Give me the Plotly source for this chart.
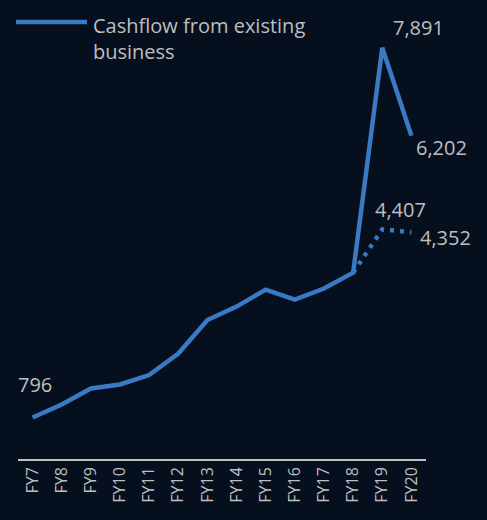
import plotly.graph_objects as go

categories = ["FY7", "FY8", "FY9", "FY10", "FY11", "FY12", "FY13", "FY14",
              "FY15", "FY16", "FY17", "FY18", "FY19", "FY20"]
cashflow = [796, 1045, 1352, 1429, 1611, 2023, 2666, 2924, 3250, 3059, 3270, 3576, 7891, 6202]
alt_categories = ["FY18", "FY19", "FY20"]
alt_values = [3576, 4407, 4352]
series_name = "Cashflow from existing<br>business"

BG = "#050f1e"
LINE = "#3a79c4"
TXT = "#bfbfbf"
FONT = "Open Sans"

fig = go.Figure()
fig.add_trace(go.Scatter(x=categories, y=cashflow, mode="lines",
                         line=dict(color=LINE, width=4.5),
                         showlegend=False))
fig.add_trace(go.Scatter(x=alt_categories, y=alt_values, mode="lines",
                         line=dict(color=LINE, width=4.5, dash="4px,6px"),
                         showlegend=False, hoverinfo="skip"))

def fmt(v):
    return f"{v:,}"

labels = [
    (categories[0], cashflow[0], 2, 33),
    (categories[12], cashflow[12], 36, 20),
    (categories[13], cashflow[13], 30, -12),
    (alt_categories[1], alt_values[1], 18, 20),
    (alt_categories[2], alt_values[2], 34, -5),
]
for x, y, dx, dy in labels:
    fig.add_annotation(x=x, y=y, text=fmt(y), showarrow=False,
                       xshift=dx, yshift=dy, xanchor="center", yanchor="middle",
                       font=dict(family=FONT, size=20, color=TXT))

# manual legend
fig.add_shape(type="line", xref="paper", yref="paper",
              x0=(16 - 18) / 408, x1=(87 - 18) / 408,
              y0=(459 - 22) / 417, y1=(459 - 22) / 417,
              line=dict(color=LINE, width=4.5))
fig.add_annotation(xref="paper", yref="paper", x=(91 - 18) / 408, y=(459 - 38) / 417,
                   text=series_name, showarrow=False, xanchor="left", yanchor="middle",
                   align="left", font=dict(family=FONT, size=20, color=TXT))

fig.update_layout(
    width=487, height=520,
    margin=dict(l=18, r=61, t=42, b=61),
    paper_bgcolor=BG, plot_bgcolor=BG,
    showlegend=False,
    xaxis=dict(type="category", categoryorder="array", categoryarray=categories,
               range=[-0.5, 13.5], showgrid=False, zeroline=False,
               showline=True, linecolor=TXT, linewidth=1.5, tickangle=-90,
               ticks="", tickfont=dict(family=FONT, size=16, color=TXT)),
    yaxis=dict(range=[0, 8000], visible=False, showgrid=False, zeroline=False),
)

fig.write_html("out.html")
